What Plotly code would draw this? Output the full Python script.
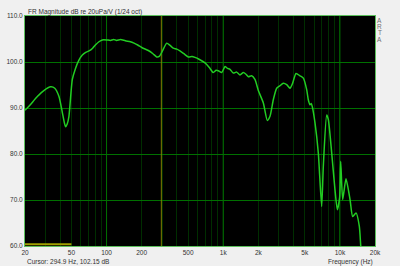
import math
import plotly.graph_objects as go

# ---- data ----
freq_hz = [20, 22, 25.5, 29, 33.2, 36, 39.1, 41.8, 43.5, 44.6, 46, 47.6, 50.9, 54, 58, 62,
           66.3, 70.8, 76, 81, 86.1, 92, 100, 108, 115, 122, 132, 145, 160, 172, 185, 202,
           228, 250, 269, 283, 300, 328, 350, 373, 400, 426, 460, 502, 540, 573, 620, 698,
           760, 822, 870, 908, 970, 1036, 1090, 1143, 1220, 1304, 1393, 1487, 1560, 1641,
           1754, 1870, 2000, 2208, 2387, 2518, 2688, 2872, 3050, 3274, 3500, 3735, 3937,
           4206, 4550, 4862, 5193, 5361, 5546, 5680, 5800, 6125, 6535, 6980, 7210, 7710,
           7960, 8510, 9080, 9510, 9950, 10160, 10570, 11280, 12220, 12880, 13750, 14670,
           15070, 15500]
magnitude_db = [89.5, 90.6, 92.5, 93.8, 94.6, 94.3, 92.5, 89.0, 86.8, 85.9, 86.5, 88.2, 96.2,
                98.5, 100.4, 101.5, 102.1, 102.4, 103.0, 103.8, 104.4, 104.8, 104.8, 104.7,
                104.9, 104.7, 104.9, 104.6, 104.4, 104.1, 103.7, 103.1, 102.5, 101.8, 101.1,
                101.2, 102.3, 104.1, 103.6, 103.0, 102.8, 102.4, 101.8, 101.1, 101.2, 101.0,
                100.6, 99.8, 98.8, 97.7, 98.2, 98.1, 97.7, 99.0, 98.6, 98.4, 97.6, 97.8, 97.2,
                97.7, 97.4, 96.8, 97.0, 96.2, 93.8, 91.1, 87.3, 88.2, 91.8, 94.3, 94.8, 95.4,
                95.1, 94.3, 95.4, 97.5, 97.0, 96.5, 94.0, 91.8, 90.7, 91.0, 90.3, 86.7, 80.2,
                68.6, 77.3, 88.5, 87.5, 80.2, 72.2, 67.9, 70.5, 78.4, 70.1, 74.6, 70.1, 66.4,
                67.2, 64.3, 60.3, 55.0]

low_marker_freq = [20, 50]
low_marker_db = [60.4, 60.4]

cursor_freq = 294.9
cursor_db = 102.15

x_label_vals = [20, 50, 100, 200, 500, 1000, 2000, 5000, 10000, 20000]
x_label_text = ["20", "50", "100", "200", "500", "1k", "2k", "5k", "10k", "20k"]
x_minor_vals = [m * d for d in (10, 100, 1000, 10000) for m in range(1, 10)
                if 20 <= m * d <= 20000 and m * d not in (20, 50, 100, 200, 500, 1000, 2000, 5000, 10000, 20000)]
decade_vals = [100, 1000, 10000]
y_tick_vals = [60, 70, 80, 90, 100, 110]
y_tick_text = ["60.0", "70.0", "80.0", "90.0", "100.0", "110.0"]

title_text = "FR Magnitude dB re 20uPa/V (1/24 oct)"
x_title = "Frequency (Hz)"

FONT = "Liberation Sans"
TXT = "#333333"
DARK_GRID = "#002e00"
BRIGHT_GRID = "#007000"

fig = go.Figure()

for d in decade_vals:
    fig.add_trace(go.Scatter(x=[d, d], y=[60, 110], mode="lines",
                             line=dict(color=BRIGHT_GRID, width=1), hoverinfo="skip", showlegend=False))

fig.add_trace(go.Scatter(x=[cursor_freq, cursor_freq], y=[60, 110], mode="lines",
                         line=dict(color="#808000", width=1), hoverinfo="skip", showlegend=False))

fig.add_trace(go.Scatter(x=low_marker_freq, y=low_marker_db, mode="lines",
                         line=dict(color="#a0a000", width=2), showlegend=False))

fig.add_trace(go.Scatter(x=freq_hz, y=magnitude_db, mode="lines",
                         line=dict(color="#22cc22", width=1.5, shape="spline", smoothing=0.6),
                         showlegend=False))

fig.update_layout(
    width=400, height=266,
    margin=dict(l=25, r=25, t=16, b=20),
    paper_bgcolor="#f0f0f0",
    plot_bgcolor="#000000",
    font=dict(family=FONT, size=6.5, color=TXT),
    xaxis=dict(type="log", range=[math.log10(20), math.log10(20000)], automargin=False,
               tickmode="array", tickvals=x_label_vals, ticktext=x_label_text,
               showgrid=True, gridcolor=DARK_GRID, gridwidth=1,
               minor=dict(tickmode="array", tickvals=x_minor_vals, showgrid=True,
                          gridcolor=DARK_GRID, gridwidth=1, ticklen=0),
               ticks="", ticklen=0, zeroline=False,
               showline=True, linecolor="#5cc05c", linewidth=1, mirror=True,
               tickfont=dict(family=FONT, size=6.5, color=TXT)),
    yaxis=dict(range=[60, 110], tickmode="array", tickvals=y_tick_vals, ticktext=y_tick_text,
               automargin=False,
               showgrid=True, gridcolor=BRIGHT_GRID, gridwidth=1,
               ticks="", ticklen=0, zeroline=False,
               showline=True, linecolor="#5cc05c", linewidth=1, mirror=True,
               tickfont=dict(family=FONT, size=6.5, color=TXT)),
    annotations=[
        dict(text=title_text, xref="paper", yref="paper", x=0.003, y=(246 - 11.5) / 230,
             xanchor="left", yanchor="middle", showarrow=False,
             font=dict(family=FONT, size=6.5, color=TXT)),
        dict(text="Cursor: %.1f Hz, %.2f dB" % (cursor_freq, cursor_db), xref="paper", yref="paper",
             x=0.0, y=(246 - 261.5) / 230, xanchor="left", yanchor="middle", showarrow=False,
             font=dict(family=FONT, size=6.5, color=TXT)),
        dict(text=x_title, xref="paper", yref="paper", x=1.0, y=(246 - 261.5) / 230,
             xanchor="right", yanchor="middle", showarrow=False,
             font=dict(family=FONT, size=6.5, color=TXT)),
    ] + [
        dict(text=ch, xref="paper", yref="paper", x=(379.5 - 25) / 350, y=(246 - yy) / 230,
             xanchor="center", yanchor="middle", showarrow=False,
             font=dict(family=FONT, size=6.5, color="#707070"))
        for ch, yy in zip("ARTA", [20, 26.3, 32.6, 39])
    ],
)

fig.write_html("out.html")
